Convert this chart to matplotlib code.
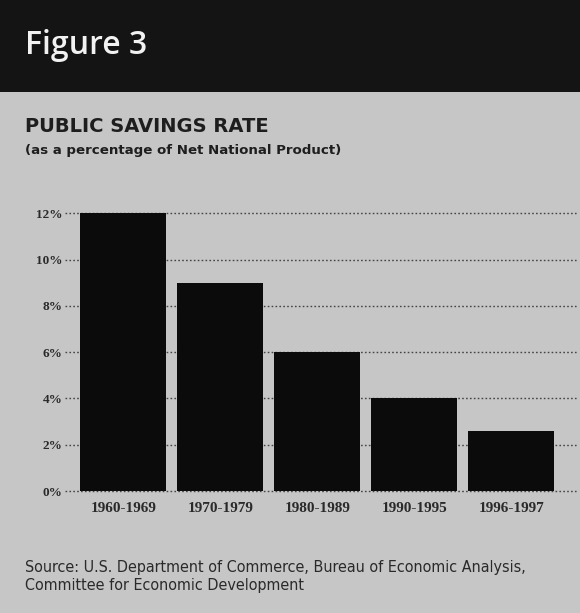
import numpy as np
import matplotlib.pyplot as plt
from matplotlib.patches import Rectangle

periods = ['1960-1969', '1970-1979', '1980-1989', '1990-1995', '1996-1997']
savings_rate = [12.0, 9.0, 6.0, 4.0, 2.6]
y_ticks = [0, 2, 4, 6, 8, 10, 12]
y_labels = ['0%', '2%', '4%', '6%', '8%', '10%', '12%']

bg = '#c6c6c6'
fig = plt.figure(figsize=(5.8, 6.13), dpi=100, facecolor=bg)

# dark header band
fig.patches.append(Rectangle((0, 0.85), 1, 0.15, transform=fig.transFigure,
                             facecolor='#141414', edgecolor='none', zorder=0))
fig.text(0.043, 0.925, 'Figure 3', color='#f2f2f2', fontsize=23,
         fontfamily='Open Sans', fontweight='semibold', va='center', ha='left')

fig.text(0.043, 0.793, 'PUBLIC SAVINGS RATE', color='#1e1e1e', fontsize=14,
         fontfamily='DejaVu Sans', fontweight='bold', va='center', ha='left')
fig.text(0.043, 0.755, '(as a percentage of Net National Product)', color='#1e1e1e',
         fontsize=9.6, fontfamily='DejaVu Sans', fontweight='bold', va='center', ha='left')

ax = fig.add_axes([0.129, 0.199, 0.868, 0.453])
ax.set_facecolor('none')
x = np.arange(len(periods))

for t in y_ticks:
    ax.axhline(t, color='#454545', linestyle=(0, (1.2, 1.6)), linewidth=1.0,
               xmin=-0.02, clip_on=False, zorder=1)

ax.bar(x, savings_rate, width=0.89, color='#0b0b0b', edgecolor='none', zorder=2)

ax.set_xlim(-0.5, 4.69)
ax.set_ylim(0, 12)
ax.set_yticks(y_ticks)
ax.set_yticklabels(y_labels, fontfamily='Liberation Serif', fontweight='bold',
                   fontsize=9.5, color='#2a2a2a')
ax.set_xticks(x)
ax.set_xticklabels(periods, fontfamily='Liberation Serif', fontweight='bold',
                   fontsize=11, color='#2a2a2a')
ax.tick_params(axis='both', length=0)
ax.tick_params(axis='y', pad=9)
ax.tick_params(axis='x', pad=8)
for s in ax.spines.values():
    s.set_visible(False)

src_font = dict(color='#2a2a2a', fontsize=11.5, fontfamily='DejaVu Sans',
                fontstretch='condensed', va='center', ha='left')
fig.text(0.043, 0.075, 'Source: U.S. Department of Commerce, Bureau of Economic Analysis,',
         **src_font)
fig.text(0.043, 0.045, 'Committee for Economic Development', **src_font)

fig.savefig('out.png', dpi=100, facecolor=bg)
